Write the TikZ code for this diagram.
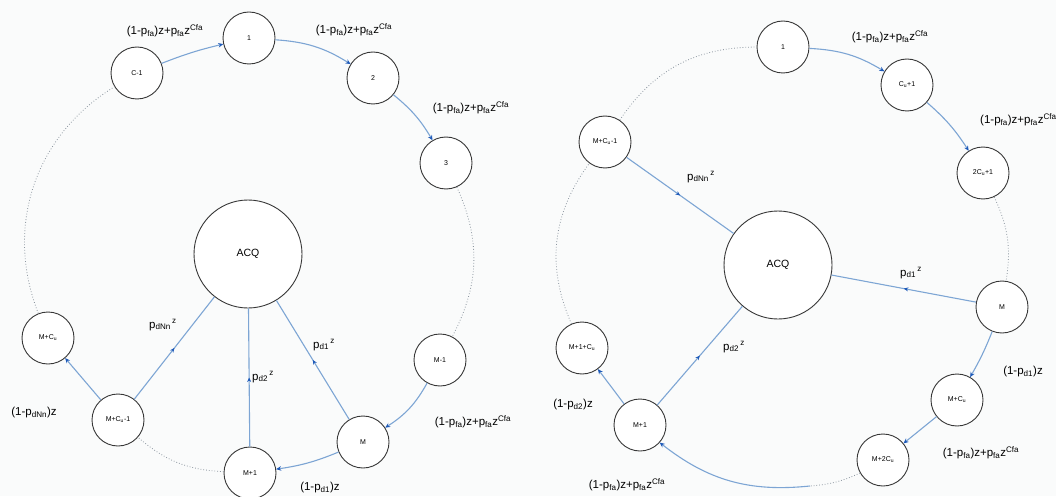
\documentclass[tikz,border=0pt]{standalone}
\usepackage{fontspec}
\setmainfont{Liberation Sans}
\usetikzlibrary{arrows.meta,decorations.markings}
\definecolor{edgeblue}{RGB}{125,165,212}
\definecolor{tipblue}{RGB}{30,90,185}
\definecolor{circgray}{RGB}{55,55,55}
\definecolor{dotgray}{RGB}{140,150,160}
\definecolor{bgc}{RGB}{250,251,251}
\newcommand{\falab}{(1-p\textsubscript{fa})z+p\textsubscript{fa}z\textsuperscript{Cfa}}
\newcommand{\pdlab}[1]{p\textsubscript{#1}\textsuperscript{\,z}}
\tikzset{
  state/.style={circle, draw=circgray, line width=0.9pt, fill=white, minimum size=52pt, inner sep=0pt, font=\fontsize{7}{8}\selectfont},
  acq/.style={state, minimum size=108pt, font=\fontsize{10.5}{12}\selectfont},
  flow/.style={draw=edgeblue, line width=1.1pt, -{Stealth[length=5pt,width=4.5pt,color=tipblue]}},
  midflow/.style={draw=edgeblue, line width=1.1pt, postaction={decorate},
    decoration={markings, mark=at position 0.5 with {\arrow{Stealth[length=4.5pt,width=4pt,color=tipblue]}}}},
  ringdots/.style={draw=dotgray, dotted, line width=0.8pt},
  lab/.style={font=\fontsize{11.5}{13}\selectfont, inner sep=1pt},
}
\begin{document}
\begin{tikzpicture}[x=1pt,y=1pt]
\useasboundingbox (0,0) rectangle (1056,496);
\fill[bgc] (0,0) rectangle (1056,496);
\clip (0,0) rectangle (1056,496);

% ---------------- left diagram ----------------
\node[acq]   (lacq) at (248,242) {ACQ};
\node[state] (lc1)  at (137,423) {C-1};
\node[state] (l1)   at (249,458) {1};
\node[state] (l2)   at (373,418) {2};
\node[state] (l3)   at (446,333) {3};
\node[state] (lmm1) at (440,136) {M-1};
\node[state] (lm)   at (363,54)  {M};
\node[state] (lmp1) at (250,23)  {M+1};
\node[state] (lmcu1) at (118,76) {M+C\textsubscript{u}-1};
\node[state] (lmcu) at (48,158)  {M+C\textsubscript{u}};

\draw[ringdots] (l3) to[bend left=26] (lmm1);
\draw[ringdots] (lmcu) to[bend left=40] (lc1);
\draw[ringdots] (lmp1) to[bend left=19] (lmcu1);

\draw[flow] (lc1) to[bend left=4] (l1);
\draw[flow] (l1) to[bend left=14] (l2);
\draw[flow] (l2) to[bend left=10] (l3);
\draw[flow] (lmm1) to[bend left=14] (lm);
\draw[flow] (lm) to[bend left=7] (lmp1);
\draw[flow] (lmcu1) -- (lmcu);
\draw[midflow] (lm) -- (lacq);
\draw[midflow] (lmp1) -- (lacq);
\draw[midflow] (lmcu1) -- (lacq);

\node[lab] (ll1) at (165,465) {\falab};
\node[lab] (ll2) at (354,466) {\falab};
\node[lab] (ll3) at (471,388) {\falab};
\node[lab] (ll4) at (473,74)  {\falab};
\node[lab] (ll5) at (320,8)   {(1-p\textsubscript{d1})z};
\node[lab] (ll6) at (34,83)   {(1-p\textsubscript{dNn})z};
\node[lab] (ll7) at (263,119) {\pdlab{d2}};
\node[lab] (ll8) at (324,151) {\pdlab{d1}};
\node[lab] (ll9) at (163,171) {\pdlab{dNn}};

% ---------------- right diagram ----------------
\node[acq]   (racq) at (778,231) {ACQ};
\node[state] (r1)   at (783,449) {1};
\node[state] (rcu1) at (907,411) {C\textsubscript{u}+1};
\node[state] (r2cu1) at (983,323) {2C\textsubscript{u}+1};
\node[state] (rm)   at (1002,189) {M};
\node[state] (rmcu) at (957,96)  {M+C\textsubscript{u}};
\node[state] (rm2cu) at (883,36) {M+2C\textsubscript{u}};
\node[state] (rmp1) at (640,71)  {M+1};
\node[state] (rm1cu) at (582,148) {M+1+C\textsubscript{u}};
\node[state] (rmcu1) at (605,354) {M+C\textsubscript{u}-1};
\coordinate (rbot) at (810,10);

\draw[ringdots] (rmcu1) to[bend left=28] (r1);
\draw[ringdots] (rm1cu) to[bend left=30] (rmcu1);
\draw[ringdots] (r2cu1) to[bend left=17] (rm);
\draw[ringdots] (rm2cu) to[bend left=10] (rbot);

\draw[flow] (r1) to[bend left=14] (rcu1);
\draw[flow] (rcu1) to[bend left=8] (r2cu1);
\draw[flow] (rm) to[bend left=4] (rmcu);
\draw[flow] (rmcu) -- (rm2cu);
\draw[flow] (rbot) to[bend left=22] (rmp1);
\draw[flow] (rmp1) -- (rm1cu);
\draw[midflow] (rm) -- (racq);
\draw[midflow] (rmp1) -- (racq);
\draw[midflow] (rmcu1) -- (racq);

\node[lab] (rl1) at (890,459) {\falab};
\node[lab, anchor=west] (rl2) at (979,376) {\falab};
\node[lab] (rl3) at (1023,124) {(1-p\textsubscript{d1})z};
\node[lab] (rl4) at (981,43)  {\falab};
\node[lab] (rl5) at (627,11)  {\falab};
\node[lab] (rl6) at (573,91)  {(1-p\textsubscript{d2})z};
\node[lab] (rl7) at (734,149) {\pdlab{d2}};
\node[lab] (rl8) at (911,223) {\pdlab{d1}};
\node[lab] (rl9) at (701,319) {\pdlab{dNn}};
\end{tikzpicture}
\end{document}
